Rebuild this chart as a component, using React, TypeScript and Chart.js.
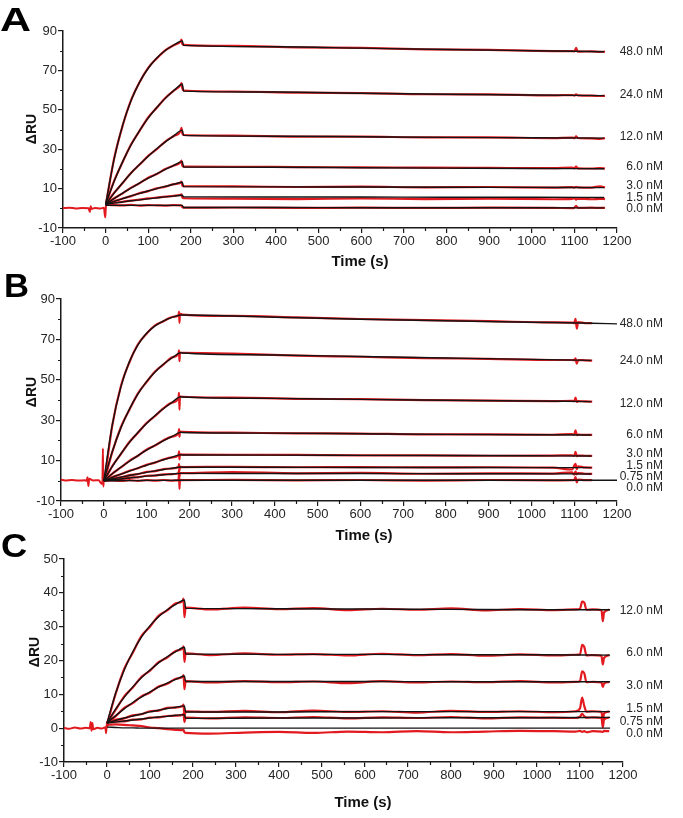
import React, { useEffect, useRef } from 'react';
import { Chart, registerables } from 'chart.js';

Chart.register(...registerables);

const FONT = "'Liberation Sans', Arial, Helvetica, sans-serif";
const RED = '#e2191e';
const BLACK = '#141414';
const AXIS = '#1a1a1a';
const TEXT = '#262626';

// ---------- shared x axis ----------
const xTicks = [-100, 0, 100, 200, 300, 400, 500, 600, 700, 800, 900, 1000, 1100, 1200];
const xMinorTicks = [-50, 50, 150, 250, 350, 450, 550, 650, 750, 850, 950, 1050, 1150];

// ---------- Panel A ----------
const yTicksA = [-10, 10, 30, 50, 70, 90];
const yMinorA = [0, 20, 40, 60, 80];
const concA = ['48.0 nM', '24.0 nM', '12.0 nM', '6.0 nM', '3.0 nM', '1.5 nM', '0.0 nM'];
const concValA = [79.5, 57.5, 36.2, 21.0, 11.3, 5.2, -0.4];

const fitTimeA = [0, 20, 40, 60, 80, 100, 120, 140, 160, 180, 183, 400, 600, 800, 1000, 1170];
const fitA48 = [2, 25.1, 42.2, 54.8, 64.2, 71.1, 76.3, 80.1, 82.9, 85.0, 82.7, 82.0, 81.3, 80.6, 80.0, 79.5];
const fitA24 = [2, 13.7, 23.7, 32.3, 39.6, 45.9, 51.2, 55.8, 59.8, 63.0, 59.5, 59.0, 58.4, 57.9, 57.5, 57.2];
const fitA12 = [2, 7.7, 13.0, 17.9, 22.3, 26.4, 30.2, 33.7, 36.8, 39.7, 37.0, 36.6, 36.3, 36.0, 35.8, 35.6];
const fitA6 = [2, 4.9, 7.7, 10.3, 12.9, 15.3, 17.5, 19.7, 21.8, 23.7, 21.0, 20.8, 20.6, 20.4, 20.2, 20.1];
const fitA3 = [2, 3.5, 4.9, 6.3, 7.6, 8.8, 10.0, 11.1, 12.2, 13.2, 11.0, 10.9, 10.8, 10.7, 10.6, 10.5];
const fitA1p5 = [2, 2.6, 3.2, 3.8, 4.3, 4.8, 5.3, 5.8, 6.2, 6.6, 5.8, 5.7, 5.7, 5.6, 5.6, 5.5];
const fitA0 = [1.5, 1.5, 1.5, 1.5, 1.5, 1.5, 1.5, 1.5, 1.5, 1.5, 0.4, 0.4, 0.3, 0.3, 0.3, 0.2];

const dataTimeA = [1, 20, 40, 60, 80, 100, 120, 140, 160, 176, 178, 180, 183, 300, 450, 600, 750, 900, 1050, 1095, 1100, 1104, 1108, 1140, 1160, 1172];
const redA48 = [2.4, 25.3, 42.0, 55.0, 64.1, 71.3, 76.1, 80.2, 82.8, 84.7, 85.6, 83.4, 83.0, 82.4, 81.7, 81.4, 80.7, 80.4, 79.8, 79.8, 79.6, 81.4, 79.5, 79.7, 79.4, 79.5];
const redA24 = [2.3, 13.9, 23.5, 32.5, 39.4, 46.1, 51.0, 56.0, 59.7, 62.6, 63.6, 61.0, 59.8, 59.3, 58.7, 58.5, 57.9, 57.8, 57.3, 57.5, 57.2, 57.9, 57.3, 57.2, 57.0, 57.1];
const redA12 = [2.3, 7.9, 12.8, 18.1, 22.2, 26.6, 30.0, 33.9, 36.7, 39.2, 40.8, 38.0, 37.2, 36.9, 36.4, 36.4, 36.0, 36.0, 35.6, 35.9, 35.6, 36.5, 35.7, 35.5, 35.2, 35.6];
const redA6 = [2.3, 5.1, 7.6, 10.5, 12.8, 15.5, 17.4, 19.9, 21.7, 23.4, 24.2, 21.6, 21.2, 21.1, 20.9, 20.8, 20.6, 20.5, 20.4, 20.6, 20.3, 21.2, 20.3, 20.2, 20.4, 20.2];
const redA3 = [2.2, 3.6, 5.0, 6.2, 7.7, 8.7, 10.1, 11.0, 12.3, 13.0, 13.5, 11.6, 11.2, 11.1, 10.8, 11.0, 10.6, 10.8, 10.5, 10.7, 10.5, 10.9, 10.6, 10.5, 11.2, 10.6];
const redA1p5 = [2.2, 2.8, 3.3, 3.9, 4.4, 5.0, 5.4, 5.9, 6.3, 6.9, 7.1, 5.6, 5.1, 4.9, 4.7, 5.0, 4.7, 4.9, 4.6, 4.8, 5.2, 4.4, 4.9, 4.6, 4.8, 4.7];
const redA0 = [1.8, 1.6, 1.5, 1.7, 1.4, 1.6, 1.5, 1.4, 1.6, 1.5, 1.4, 0.6, 0.3, 0.4, 0.2, 0.3, 0.2, 0.3, 0.2, 0.1, 0.3, 1.3, 0.2, 0.3, 0.2, 0.2];

const baseTimeA = [-100, -85, -70, -55, -40, -37, -35, -33, -25, -12, -4, -1, 0, 1];
const baseA = [0.1, 0.3, -0.1, 0.2, 0.0, -1.8, 1.0, -0.3, 0.2, -0.1, 0.3, -4.6, -1.5, 2.0];

// ---------- Panel B ----------
const yTicksB = [-10, 10, 30, 50, 70, 90];
const yMinorB = [0, 20, 40, 60, 80];
const concB = ['48.0 nM', '24.0 nM', '12.0 nM', '6.0 nM', '3.0 nM', '1.5 nM', '0.75 nM', '0.0 nM'];
const concValB = [77.6, 59.5, 38.4, 22.7, 13.2, 7.3, 2.0, -3.2];

const fitTimeB = [0, 20, 40, 60, 80, 100, 120, 140, 160, 180, 183, 400, 600, 800, 1000, 1140];
const fitTimeBLong = [0, 20, 40, 60, 80, 100, 120, 140, 160, 180, 183, 400, 600, 800, 1000, 1140, 1200];
const fitB48 = [0, 27.8, 46.5, 59.0, 67.3, 73.0, 76.7, 79.2, 80.9, 82.1, 82.1, 81.0, 80.0, 79.2, 78.5, 78.0, 77.7];
const fitB24 = [0, 14.5, 26.2, 35.5, 43.0, 49.1, 53.9, 57.8, 60.9, 63.4, 63.3, 62.3, 61.5, 60.8, 60.1, 59.6];
const fitB12 = [0, 7.1, 13.4, 19.0, 24.0, 28.4, 32.3, 35.8, 38.9, 41.6, 41.5, 40.8, 40.3, 39.9, 39.5, 39.2];
const fitB6 = [0, 3.5, 6.7, 9.7, 12.5, 15.2, 17.6, 19.9, 22.0, 24.0, 23.9, 23.6, 23.3, 23.0, 22.8, 22.7];
const fitB3 = [0, 1.7, 3.3, 4.8, 6.3, 7.7, 9.1, 10.4, 11.7, 12.9, 12.8, 12.7, 12.6, 12.5, 12.4, 12.3];
const fitB1p5 = [0, 0.9, 1.8, 2.6, 3.4, 4.2, 4.9, 5.6, 6.2, 6.8, 6.7, 6.7, 6.6, 6.6, 6.5, 6.5];
const fitB0p75 = [0, 0.5, 0.9, 1.4, 1.8, 2.3, 2.7, 3.0, 3.4, 3.7, 3.7, 3.6, 3.6, 3.5, 3.5, 3.4];
const fitB0 = [0, 0, 0.1, 0.1, 0.1, 0.2, 0.2, 0.2, 0.2, 0.3, 0.3, 0.3, 0.3, 0.3, 0.3, 0.3, 0.3];

const dataTimeB = [2, 20, 40, 60, 80, 100, 120, 140, 160, 175, 176, 177, 178, 180, 183, 300, 450, 600, 750, 900, 1050, 1095, 1100, 1103, 1106, 1109, 1125, 1142];
const redB48 = [0.3, 27.5, 46.8, 58.7, 67.6, 72.8, 76.9, 79.0, 81.1, 82.0, 83.8, 78.2, 82.5, 82.6, 82.3, 81.6, 80.9, 80.1, 79.5, 79.0, 78.4, 78.3, 78.1, 80.2, 75.3, 78.6, 78.1, 78.0];
const redB24 = [0.2, 14.3, 26.5, 35.2, 43.3, 48.9, 54.1, 57.6, 61.1, 63.2, 64.6, 59.2, 63.5, 63.4, 63.4, 63.0, 62.0, 61.4, 60.7, 60.4, 59.8, 59.8, 59.7, 60.6, 58.0, 59.8, 59.6, 59.5];
const redB12 = [0.3, 7.3, 13.2, 19.2, 23.8, 28.6, 32.1, 36.0, 38.7, 41.2, 43.6, 35.2, 41.8, 41.7, 41.6, 41.2, 40.6, 40.4, 39.9, 39.7, 39.4, 39.6, 39.4, 41.2, 39.0, 39.5, 39.3, 39.2];
const redB6 = [0.2, 3.6, 6.6, 9.9, 12.4, 15.4, 17.5, 20.1, 21.9, 23.8, 25.6, 21.8, 24.3, 24.3, 24.2, 23.8, 23.5, 23.4, 23.0, 23.0, 22.8, 23.1, 22.8, 25.0, 22.6, 22.9, 22.7, 22.7];
const redB3 = [0.2, 1.9, 3.2, 5.0, 6.2, 7.9, 9.0, 10.6, 11.6, 12.8, 14.6, 10.6, 13.2, 13.1, 13.0, 12.9, 12.8, 12.6, 12.6, 12.4, 12.5, 12.6, 12.3, 14.3, 12.2, 12.5, 12.4, 12.3];
const redB1p5 = [0.2, 1.1, 1.7, 2.8, 3.3, 4.4, 4.8, 5.8, 6.1, 6.9, 8.3, 5.0, 7.0, 6.9, 6.8, 6.9, 6.7, 6.8, 6.6, 6.7, 6.5, 5.6, 7.5, 8.4, 5.8, 7.2, 6.6, 6.5];
const redB0p75 = [0.1, 0.6, 0.8, 1.6, 1.7, 2.5, 2.6, 3.2, 3.3, 3.8, 5.2, 2.0, 3.9, 3.8, 3.8, 4.3, 3.7, 3.9, 3.5, 3.7, 3.6, 4.2, 3.0, 4.6, 3.2, 3.8, 3.5, 3.4];
const redB0 = [0.0, 0.2, -0.1, 0.3, 0.0, 0.3, 0.1, 0.4, 0.1, 0.3, 3.8, -4.0, 0.6, 0.4, 0.3, 0.5, 0.2, 0.4, 0.1, 0.4, 0.2, 0.3, 0.5, 1.8, -0.8, 0.6, 0.3, 0.3];

const baseTimeB = [-100, -90, -75, -60, -45, -40, -38, -36, -34, -25, -12, -5, -3, -2, -1, 0, 1, 2];
const baseB = [0.5, 0.2, 0.4, 0.1, 0.3, 0.0, 1.8, -2.6, 1.0, 0.2, 0.3, -1.5, 0.0, 16.0, -2.8, 0.5, 0.3, 0.3];

// ---------- Panel C ----------
const yTicksC = [-10, 0, 10, 20, 30, 40, 50];
const yMinorC = [-5, 5, 15, 25, 35, 45];
const concC = ['12.0 nM', '6.0 nM', '3.0 nM', '1.5 nM', '0.75 nM', '0.0 nM'];
const concValC = [34.7, 22.3, 12.5, 5.9, 1.9, -1.5];

const fitTimeC = [0, 20, 40, 60, 80, 100, 120, 140, 160, 180, 183, 400, 600, 800, 1000, 1170];
const fitC12 = [1.5, 10.3, 17.2, 22.6, 26.9, 30.3, 32.9, 35.0, 36.6, 37.9, 35.4, 35.3, 35.2, 35.1, 35.0, 35.0];
const fitC6 = [1.5, 5.6, 9.1, 12.2, 14.9, 17.2, 19.3, 21.1, 22.6, 23.9, 21.9, 21.8, 21.8, 21.7, 21.7, 21.6];
const fitC3 = [1.5, 3.7, 5.7, 7.6, 9.2, 10.7, 12.1, 13.3, 14.4, 15.4, 13.8, 13.8, 13.8, 13.7, 13.7, 13.7];
const fitC1p5 = [1.5, 2.3, 3.0, 3.6, 4.2, 4.8, 5.3, 5.8, 6.2, 6.6, 4.8, 4.8, 4.9, 4.9, 4.9, 4.9];
const fitC0p75 = [1.5, 1.8, 2.1, 2.4, 2.7, 3.0, 3.3, 3.5, 3.8, 4.0, 2.9, 3.0, 3.0, 3.1, 3.1, 3.2];
const fitC0 = [0.3, 0.2, 0.1, 0.1, 0.0, 0.0, 0.0, 0.0, 0.0, 0.0, 0.0, 0.0, 0.0, 0.0, 0.0, 0.0];

const dataTimeC = [2, 20, 40, 60, 80, 100, 120, 140, 160, 176, 178, 180, 183, 240, 320, 400, 480, 560, 640, 720, 800, 880, 960, 1040, 1090, 1100, 1105, 1110, 1115, 1130, 1150, 1153, 1156, 1168];
const redC12 = [2.0, 10.1, 17.5, 22.3, 27.2, 30.0, 33.2, 34.8, 36.9, 37.6, 38.3, 32.8, 35.6, 35.1, 35.6, 35.2, 35.5, 34.9, 35.3, 35.0, 35.4, 34.8, 35.2, 34.9, 35.1, 35.3, 37.4, 37.1, 35.0, 35.1, 34.9, 31.6, 34.2, 35.0];
const redC6 = [1.9, 5.4, 9.4, 12.0, 15.1, 17.0, 19.5, 20.9, 22.8, 23.6, 24.2, 19.6, 22.1, 21.6, 22.1, 21.7, 21.9, 21.5, 22.0, 21.6, 21.9, 21.4, 21.8, 21.5, 21.7, 21.8, 24.6, 24.0, 21.5, 21.6, 21.4, 18.8, 20.8, 21.6];
const redC3 = [1.9, 3.5, 6.0, 7.4, 9.4, 10.5, 12.3, 13.1, 14.6, 15.2, 15.7, 11.5, 13.9, 13.5, 13.9, 13.6, 13.8, 13.3, 13.9, 13.5, 13.8, 13.6, 13.9, 13.5, 13.7, 13.9, 16.8, 16.2, 13.6, 13.7, 13.5, 12.2, 13.2, 13.6];
const redC1p5 = [1.8, 2.5, 2.9, 3.8, 4.1, 5.0, 5.2, 6.0, 6.1, 6.6, 7.0, 3.5, 5.0, 4.8, 5.1, 4.7, 5.2, 4.8, 5.0, 4.6, 5.1, 4.8, 5.0, 4.7, 5.0, 5.9, 9.0, 6.5, 4.9, 5.0, 4.8, 2.0, 4.4, 4.9];
const redC0p75 = [1.8, 2.0, 2.0, 2.5, 2.6, 3.1, 3.2, 3.6, 3.7, 4.0, 4.2, 1.8, 3.1, 2.9, 3.2, 3.0, 3.3, 2.9, 3.2, 3.0, 3.3, 2.9, 3.2, 3.1, 3.0, 3.4, 4.2, 3.5, 3.1, 3.2, 3.0, 0.3, 2.6, 3.1];
const redC0 = [1.0, 1.1, 1.0, 0.8, 0.6, 0.2, 0.0, -0.3, -0.5, -0.6, -0.5, -1.2, -1.4, -1.6, -1.3, -1.1, -1.4, -1.0, -1.2, -0.9, -1.2, -1.0, -0.8, -0.9, -1.0, -0.8, -1.1, -0.9, -1.2, -0.9, -1.0, -1.1, -0.8, -0.9];

const baseTimeC = [-100, -88, -75, -62, -50, -40, -38, -36, -34, -32, -22, -12, -4, -2, 0, 1, 2];
const baseC = [0.1, -0.2, 0.2, -0.1, 0.1, 0.0, 1.8, -0.8, 1.5, -0.3, 0.1, -0.1, 0.3, -1.5, 2.0, 0.5, 1.5];

// ---------- assembly ----------
type Curve = { fitT: number[]; fit: number[]; dataT: number[]; red: number[] };
type PanelCfg = {
  letter: string;
  yMin: number; yMax: number;
  yTicks: number[]; yMinor: number[];
  conc: string[]; concVal: number[];
  curves: Curve[];
  baseT: number[]; base: number[];
  top: number; bottom: number; left: number; right: number; axisBottom: number;
  letterX: number; letterY: number; letterSX: number;
  yTitleX: number; yTitleY: number; xTitleX: number; xTitleY: number;
};

const panels: PanelCfg[] = [
  {
    letter: 'A', yMin: -10, yMax: 90, yTicks: yTicksA, yMinor: yMinorA, conc: concA, concVal: concValA,
    curves: [
      { fitT: fitTimeA, fit: fitA48, dataT: dataTimeA, red: redA48 },
      { fitT: fitTimeA, fit: fitA24, dataT: dataTimeA, red: redA24 },
      { fitT: fitTimeA, fit: fitA12, dataT: dataTimeA, red: redA12 },
      { fitT: fitTimeA, fit: fitA6, dataT: dataTimeA, red: redA6 },
      { fitT: fitTimeA, fit: fitA3, dataT: dataTimeA, red: redA3 },
      { fitT: fitTimeA, fit: fitA1p5, dataT: dataTimeA, red: redA1p5 },
      { fitT: fitTimeA, fit: fitA0, dataT: dataTimeA, red: redA0 },
    ],
    baseT: baseTimeA, base: baseA,
    top: 31, bottom: 228, left: 63, right: 617, axisBottom: 272,
    letterX: 0, letterY: 30.5, letterSX: 1.3,
    yTitleX: 32, yTitleY: 129, xTitleX: 360, xTitleY: 262,
  },
  {
    letter: 'B', yMin: -10, yMax: 90, yTicks: yTicksB, yMinor: yMinorB, conc: concB, concVal: concValB,
    curves: [
      { fitT: fitTimeBLong, fit: fitB48, dataT: dataTimeB, red: redB48 },
      { fitT: fitTimeB, fit: fitB24, dataT: dataTimeB, red: redB24 },
      { fitT: fitTimeB, fit: fitB12, dataT: dataTimeB, red: redB12 },
      { fitT: fitTimeB, fit: fitB6, dataT: dataTimeB, red: redB6 },
      { fitT: fitTimeB, fit: fitB3, dataT: dataTimeB, red: redB3 },
      { fitT: fitTimeB, fit: fitB1p5, dataT: dataTimeB, red: redB1p5 },
      { fitT: fitTimeB, fit: fitB0p75, dataT: dataTimeB, red: redB0p75 },
      { fitT: fitTimeBLong, fit: fitB0, dataT: dataTimeB, red: redB0 },
    ],
    baseT: baseTimeB, base: baseB,
    top: 299, bottom: 501, left: 61, right: 617, axisBottom: 545,
    letterX: 4, letterY: 297, letterSX: 1.05,
    yTitleX: 32, yTitleY: 392, xTitleX: 364, xTitleY: 536,
  },
  {
    letter: 'C', yMin: -10, yMax: 50, yTicks: yTicksC, yMinor: yMinorC, conc: concC, concVal: concValC,
    curves: [
      { fitT: fitTimeC, fit: fitC12, dataT: dataTimeC, red: redC12 },
      { fitT: fitTimeC, fit: fitC6, dataT: dataTimeC, red: redC6 },
      { fitT: fitTimeC, fit: fitC3, dataT: dataTimeC, red: redC3 },
      { fitT: fitTimeC, fit: fitC1p5, dataT: dataTimeC, red: redC1p5 },
      { fitT: fitTimeC, fit: fitC0p75, dataT: dataTimeC, red: redC0p75 },
      { fitT: fitTimeC, fit: fitC0, dataT: dataTimeC, red: redC0 },
    ],
    baseT: baseTimeC, base: baseC,
    top: 559, bottom: 762, left: 64, right: 623, axisBottom: 818,
    letterX: 1, letterY: 557, letterSX: 1.1,
    yTitleX: 35, yTitleY: 652, xTitleX: 363, xTitleY: 803,
  },
];

const W = 683;
const H = 818;

const zip = (t: number[], v: number[]) => t.map((x, i) => ({ x, y: v[i] }));

function buildConfig(P: PanelCfg): any {
  const datasets: any[] = [];
  const lineCommon = { pointRadius: 0, pointHoverRadius: 0, fill: false, cubicInterpolationMode: 'monotone' };
  P.curves.forEach((c) => {
    datasets.push({ ...lineCommon, data: zip(c.fitT, c.fit), borderColor: BLACK, borderWidth: 1.4, order: 0 });
  });
  P.curves.forEach((c) => {
    datasets.push({ ...lineCommon, data: zip(c.dataT, c.red), borderColor: RED, borderWidth: 2.2, order: 1 });
  });
  datasets.push({ ...lineCommon, data: zip(P.baseT, P.base), borderColor: RED, borderWidth: 2, order: 1 });

  const decor = {
    id: 'decor' + P.letter,
    afterDraw(chart: any) {
      const ctx = chart.ctx as CanvasRenderingContext2D;
      const xs = chart.scales.x;
      const ys = chart.scales.y;
      const area = chart.chartArea;
      ctx.save();
      ctx.strokeStyle = AXIS;
      ctx.lineWidth = 1.2;
      ctx.beginPath();
      xMinorTicks.forEach((v) => {
        const px = Math.round(xs.getPixelForValue(v)) + 0.5;
        ctx.moveTo(px, area.bottom);
        ctx.lineTo(px, area.bottom + 3);
      });
      P.yMinor.forEach((v) => {
        const py = Math.round(ys.getPixelForValue(v)) + 0.5;
        ctx.moveTo(area.left - 3, py);
        ctx.lineTo(area.left, py);
      });
      ctx.stroke();

      // concentration labels
      ctx.fillStyle = TEXT;
      ctx.font = `12px ${FONT}`;
      ctx.textAlign = 'right';
      ctx.textBaseline = 'middle';
      P.conc.forEach((t, i) => ctx.fillText(t, 663, ys.getPixelForValue(P.concVal[i])));

      // axis titles
      ctx.fillStyle = '#111';
      ctx.font = `bold 15px ${FONT}`;
      ctx.textAlign = 'center';
      ctx.textBaseline = 'middle';
      ctx.fillText('Time (s)', P.xTitleX, P.xTitleY);
      ctx.save();
      ctx.translate(P.yTitleX, P.yTitleY);
      ctx.rotate(-Math.PI / 2);
      ctx.font = `bold 14px ${FONT}`;
      ctx.fillText('ΔRU', 0, 0);
      ctx.restore();

      // panel letter
      ctx.save();
      ctx.translate(P.letterX, P.letterY);
      ctx.scale(P.letterSX, 1);
      ctx.fillStyle = '#000';
      ctx.font = `bold 33px ${FONT}`;
      ctx.textAlign = 'left';
      ctx.textBaseline = 'alphabetic';
      ctx.fillText(P.letter, 0, 0);
      ctx.restore();
      ctx.restore();
    },
  };

  const tickFont = { family: FONT, size: 13 };
  const plain = (v: any) => String(v);
  return {
    type: 'line',
    data: { datasets },
    options: {
      animation: false,
      responsive: false,
      events: [],
      layout: { padding: { left: 0, top: P.top, right: W - P.right, bottom: H - P.axisBottom } },
      scales: {
        x: {
          type: 'linear',
          min: -100,
          max: 1200,
          afterBuildTicks: (s: any) => { s.ticks = xTicks.map((v) => ({ value: v })); },
          afterFit: (s: any) => { s.height = P.axisBottom - P.bottom; },
          ticks: { font: tickFont, color: TEXT, padding: 1, maxRotation: 0, autoSkip: false, callback: plain },
          grid: { drawOnChartArea: false, drawTicks: true, tickLength: 5, color: AXIS, lineWidth: 1.2 },
          border: { display: true, color: AXIS, width: 1.5 },
          title: { display: false },
        },
        y: {
          type: 'linear',
          min: P.yMin,
          max: P.yMax,
          afterBuildTicks: (s: any) => { s.ticks = P.yTicks.map((v) => ({ value: v })); },
          afterFit: (s: any) => { s.width = P.left; },
          ticks: { font: tickFont, color: TEXT, padding: 1, autoSkip: false, callback: plain },
          grid: { drawOnChartArea: false, drawTicks: true, tickLength: 5, color: AXIS, lineWidth: 1.2 },
          border: { display: true, color: AXIS, width: 1.5 },
          title: { display: false },
        },
      },
      plugins: { legend: { display: false }, tooltip: { enabled: false } },
    },
    plugins: [decor],
  };
}

function Panel({ cfg }: { cfg: PanelCfg }) {
  const ref = useRef<HTMLCanvasElement>(null);
  useEffect(() => {
    if (!ref.current) return;
    const chart = new Chart(ref.current, buildConfig(cfg));
    return () => chart.destroy();
  }, [cfg]);
  return (
    <canvas
      ref={ref}
      width={W}
      height={H}
      style={{ position: 'absolute', left: 0, top: 0, width: W, height: H, display: 'block' }}
    />
  );
}

export default function App() {
  return (
    <div style={{ position: 'absolute', left: 0, top: 0, width: W, height: H, background: '#fff', overflow: 'hidden' }}>
      {panels.map((p) => (
        <Panel key={p.letter} cfg={p} />
      ))}
    </div>
  );
}
